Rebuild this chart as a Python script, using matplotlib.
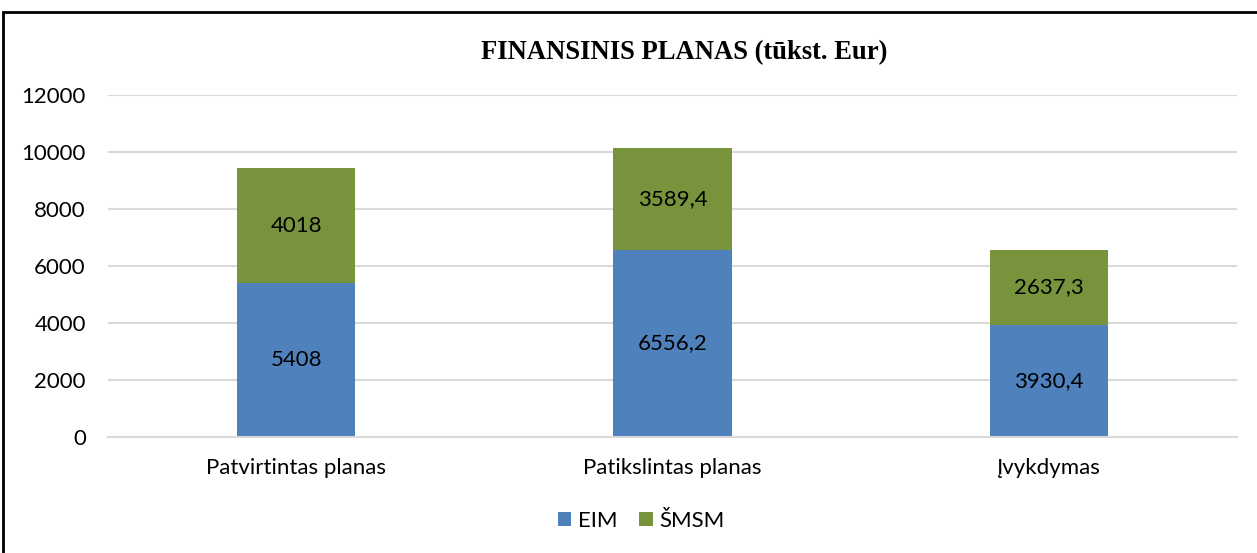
import matplotlib.pyplot as plt
import numpy as np
from matplotlib.patches import Rectangle

categories = ["Patvirtintas planas", "Patikslintas planas", "Įvykdymas"]
eim = [5408, 6556.2, 3930.4]
smsm = [4018, 3589.4, 2637.3]
eim_labels = ["5408", "6556,2", "3930,4"]
smsm_labels = ["4018", "3589,4", "2637,3"]
yticks = [0, 2000, 4000, 6000, 8000, 10000, 12000]

plt.rcParams["font.family"] = ["Lato", "DejaVu Sans"]
fs = 16

fig = plt.figure(figsize=(12.57, 5.53), dpi=100)
ax = fig.add_axes([108 / 1257, 1 - 437 / 553, (1237 - 108) / 1257, (437 - 95) / 553])

x = np.arange(len(categories))
w = 0.314
b1 = ax.bar(x, eim, w, color="#4F81BD", label="EIM")
b2 = ax.bar(x, smsm, w, bottom=eim, color="#77933C", label="ŠMSM")

for i in range(len(categories)):
    ax.text(x[i], eim[i] / 2, eim_labels[i], ha="center", va="center", fontsize=fs, color="black")
    ax.text(x[i], eim[i] + smsm[i] / 2, smsm_labels[i], ha="center", va="center", fontsize=fs, color="black")

ax.set_xlim(-0.5, 2.5)
ax.set_ylim(0, 12000)
ax.set_yticks(yticks)
ax.set_yticklabels([str(t) for t in yticks], fontsize=fs)
ax.set_xticks(x)
ax.set_xticklabels(categories, fontsize=fs)
ax.tick_params(axis="y", length=0, pad=16)
ax.tick_params(axis="x", length=0, pad=15)
ax.yaxis.grid(True, color="#D9D9D9", linewidth=1.5)
ax.set_axisbelow(True)
for s in ["top", "right", "left"]:
    ax.spines[s].set_visible(False)
ax.spines["bottom"].set_color("#D9D9D9")
ax.spines["bottom"].set_linewidth(1.5)

fig.text(684 / 1257, 1 - 53 / 553, "FINANSINIS PLANAS (tūkst. Eur)", ha="center", va="center",
         fontsize=19.2, fontweight="bold", family="Liberation Serif")

fig.legend(handles=[b1, b2], loc="center", bbox_to_anchor=(641 / 1257, 1 - 521 / 553), ncol=2,
           frameon=False, fontsize=fs, handlelength=0.6, handleheight=0.6,
           handletextpad=0.3, columnspacing=1.0)

# frame border (only top and left visible in the crop)
fig.patches.append(Rectangle((3 / 1257, -0.1), 1.2, 1 - 12 / 553 + 0.1, transform=fig.transFigure,
                             fill=False, edgecolor="black", linewidth=2))

fig.savefig("out.png", dpi=100)
